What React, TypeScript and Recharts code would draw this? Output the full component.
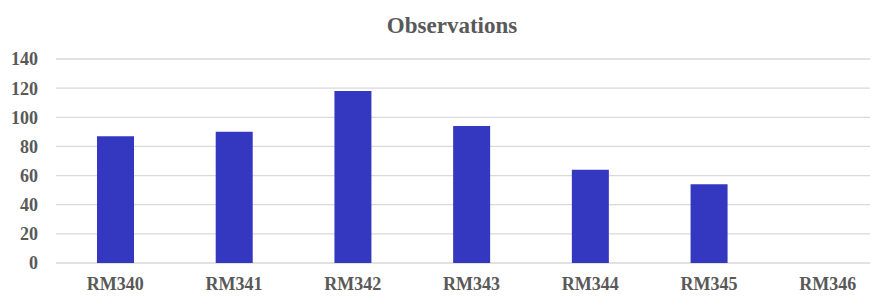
import React from "react";
import { BarChart, Bar, XAxis, YAxis, CartesianGrid } from "recharts";

const categories = ["RM340", "RM341", "RM342", "RM343", "RM344", "RM345", "RM346"];
const observations = [87, 90, 118, 94, 64, 54, 0];
const yTicks = [0, 20, 40, 60, 80, 100, 120, 140];
const title = "Observations";

const data = categories.map((c, i) => ({ name: c, value: observations[i] }));

const FONT = "'Liberation Serif', 'Times New Roman', serif";
const TEXT = "#595959";

export default function App() {
  return (
    <div style={{ margin: -8, width: 878, height: 300, overflow: "hidden", position: "relative", background: "#fff" }}>
      <BarChart
        width={890}
        height={300}
        data={data}
        margin={{ top: 59, right: 3, left: 0, bottom: 7 }}
        barSize={37}
      >
        <CartesianGrid vertical={false} stroke="#d9d9d9" strokeWidth={1.3} />
        <XAxis
          dataKey="name"
          axisLine={false}
          tickLine={false}
          tickSize={0}
          tickMargin={14}
          height={30}
          interval={0}
          tick={{ fill: TEXT, fontFamily: FONT, fontSize: 18, fontWeight: "bold" }}
        />
        <YAxis
          domain={[0, 140]}
          ticks={yTicks}
          axisLine={false}
          tickLine={false}
          tickSize={0}
          tickMargin={18}
          width={56}
          interval={0}
          tick={{ fill: TEXT, fontFamily: FONT, fontSize: 18, fontWeight: "bold" }}
        />
        <Bar dataKey="value" fill="#3438C0" isAnimationActive={false} />
      </BarChart>
      <svg width={878} height={300} style={{ position: "absolute", left: 0, top: 0, pointerEvents: "none" }}>
        <text x={452} y={33} textAnchor="middle" fill={TEXT} fontFamily={FONT} fontSize={23} fontWeight="bold">
          {title}
        </text>
      </svg>
    </div>
  );
}
